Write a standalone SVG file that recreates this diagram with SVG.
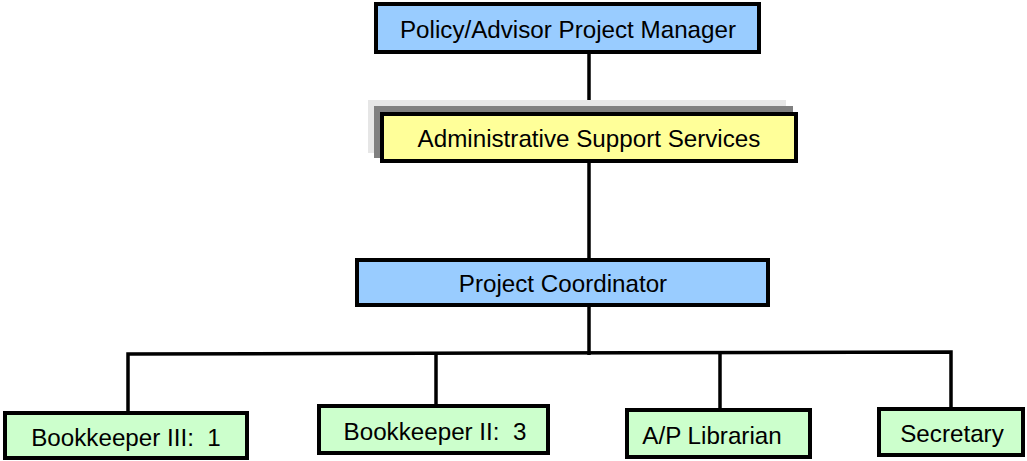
<svg xmlns="http://www.w3.org/2000/svg" width="1027" height="461" viewBox="0 0 1027 461">
<style>
.box{stroke:#000;stroke-width:4}
.blue{fill:#99ccff}
.yellow{fill:#ffff99}
.green{fill:#ccffcc}
text{font-family:"Liberation Sans",Arial,sans-serif;font-size:24.2px;fill:#000;text-anchor:middle}
.conn{stroke:#000;stroke-width:3.5;fill:none}
</style>
<rect width="1027" height="461" fill="#fff"/>
<g id="connectors">
<line class="conn" x1="589" y1="54" x2="589" y2="112"/>
<line class="conn" x1="589" y1="163" x2="589" y2="258"/>
<line class="conn" x1="589" y1="307" x2="589" y2="355"/>
<polyline class="conn" points="128,411 128,354 951,352 951,407"/>
<line class="conn" x1="436" y1="354" x2="436" y2="404"/>
<line class="conn" x1="720" y1="353" x2="720" y2="408"/>
</g>
<g id="policy-manager">
<rect class="box blue" x="376" y="4" width="383" height="48"/>
<text x="568" y="38">Policy/Advisor Project Manager</text>
</g>
<g id="admin-support">
<rect x="368" y="100" width="418" height="53" fill="#e6e6e6"/>
<rect x="374" y="106" width="419" height="52" fill="#808080"/>
<rect class="box yellow" x="382" y="114" width="414" height="47"/>
<text x="589" y="147">Administrative Support Services</text>
</g>
<g id="project-coordinator">
<rect class="box blue" x="357" y="260" width="411" height="45"/>
<text x="563" y="292">Project Coordinator</text>
</g>
<g id="bookkeeper-iii">
<rect class="box green" x="5" y="413" width="242" height="45"/>
<text x="126" y="446" xml:space="preserve">Bookkeeper III:  1</text>
</g>
<g id="bookkeeper-ii">
<rect class="box green" x="319" y="406" width="229" height="47"/>
<text x="435" y="440" xml:space="preserve">Bookkeeper II:  3</text>
</g>
<g id="ap-librarian">
<rect class="box green" x="627" y="410" width="183" height="47"/>
<text x="712" y="444">A/P Librarian</text>
</g>
<g id="secretary">
<rect class="box green" x="879" y="409" width="144" height="46"/>
<text x="952" y="442">Secretary</text>
</g>
</svg>
